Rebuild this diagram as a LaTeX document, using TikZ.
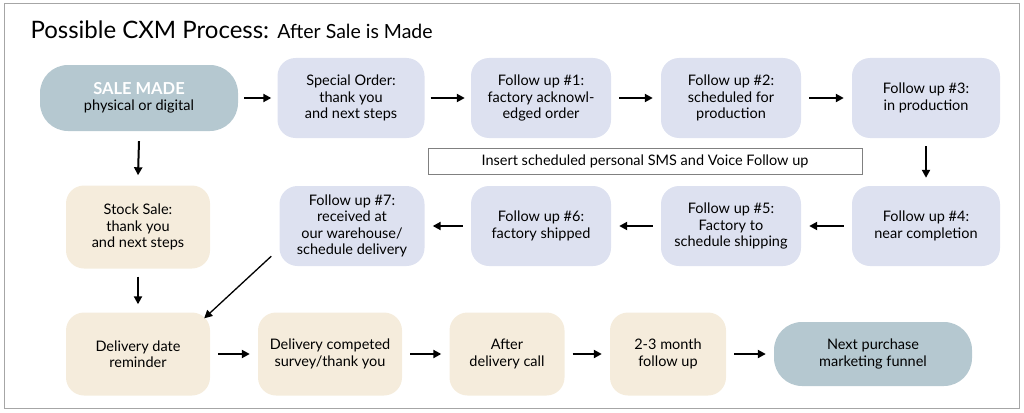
\documentclass[tikz,border=0pt]{standalone}
\usepackage{fontspec}
\setmainfont{Lato}
\usetikzlibrary{positioning,arrows.meta}
\definecolor{teal}{HTML}{B5C8D0}
\definecolor{lav}{HTML}{DDE1F0}
\definecolor{beige}{HTML}{F5ECDC}
\tikzset{
  stepbox/.style={rounded corners=18pt,align=center,font=\fontsize{14.5}{16.5}\selectfont,inner sep=0pt},
  lavbox/.style={stepbox,fill=lav,minimum width=140pt,minimum height=80pt},
  beigebox/.style={stepbox,fill=beige,minimum width=144pt,minimum height=83pt},
  tealbox/.style={stepbox,fill=teal,rounded corners=28pt,minimum width=198pt,minimum height=66pt},
  flow/.style={-{Triangle[length=8pt,width=8pt]},line width=2pt}
}
\begin{document}
\begin{tikzpicture}[x=1pt,y=-1pt]
      \useasboundingbox (0,0) rectangle (1024,412);
      \draw[gray!70,line width=1pt] (4,4) rectangle (1019,408);
      \node[anchor=west,font=\fontsize{24}{26}\selectfont] (title) at (27,30)
        {Possible CXM Process: {\fontsize{19.5}{22}\selectfont After Sale is Made}};
      % top row
      \node[tealbox] (sale) at (139,98) {{\color{white}\bfseries\fontsize{16.5}{18.5}\selectfont SALE MADE}\\physical or digital};
      \node[lavbox,minimum width=147pt] (special) at (351,98) {Special Order:\\thank you\\and next steps};
      \node[lavbox] (f1) at (541,98) {Follow up \#1:\\factory acknowl-\\edged order};
      \node[lavbox] (f2) at (731,98) {Follow up \#2:\\scheduled for\\production};
      \node[lavbox,minimum width=148pt] (f3) at (926,98) {Follow up \#3:\\in production};
      \node[draw=gray,line width=0.8pt,minimum width=434pt,minimum height=26pt,font=\fontsize{14.5}{16}\selectfont] (note) at (645,161)
        {Insert scheduled personal SMS and Voice Follow up};
      % middle row
      \node[beigebox] (stock) at (138,227) {Stock Sale:\\thank you\\and next steps};
      \node[lavbox,minimum width=145pt] (f7) at (352,226) {Follow up \#7:\\received at\\our warehouse/\\schedule delivery};
      \node[lavbox] (f6) at (541,226) {Follow up \#6:\\factory shipped};
      \node[lavbox] (f5) at (731,226) {Follow up \#5:\\Factory to\\schedule shipping};
      \node[lavbox,minimum width=148pt] (f4) at (926,226) {Follow up \#4:\\near completion};
      % bottom row
      \node[beigebox] (remind) at (138,354) {Delivery date\\reminder};
      \node[beigebox] (survey) at (330,354) {Delivery competed\\survey/thank you};
      \node[beigebox,minimum width=115pt] (call) at (507,354) {After\\delivery call};
      \node[beigebox,minimum width=116pt] (month) at (668,354) {2-3 month\\follow up};
      \node[tealbox,minimum height=64pt] (next) at (873,354) {Next purchase\\marketing funnel};
      % arrows
      \draw[flow] ([xshift=6pt]sale.east) -- ([xshift=-6pt]special.west);
      \draw[flow] ([xshift=6pt]special.east) -- ([xshift=-6pt]f1.west);
      \draw[flow] ([xshift=8pt]f1.east) -- ([xshift=-8pt]f2.west);
      \draw[flow] ([xshift=8pt]f2.east) -- ([xshift=-8pt]f3.west);
      \draw[flow] ([yshift=-8pt]f3.south) -- ([yshift=8pt]f4.north);
      \draw[flow] ([xshift=-8pt]f4.west) -- ([xshift=8pt]f5.east);
      \draw[flow] ([xshift=-8pt]f5.west) -- ([xshift=8pt]f6.east);
      \draw[flow] ([xshift=-8pt]f6.west) -- ([xshift=8pt]f7.east);
      \draw[flow] ([yshift=-10pt]sale.south) -- ([yshift=10pt]stock.north);
      \draw[flow] ([yshift=-8pt]stock.south) -- ([yshift=8pt]remind.north);
      \draw[flow,line width=1.3pt] ([shift={(-8pt,10pt)}]f7.south west) -- ([shift={(-6pt,-6pt)}]remind.north east);
      \draw[flow] ([xshift=8pt]remind.east) -- ([xshift=-8pt]survey.west);
      \draw[flow] ([xshift=8pt]survey.east) -- ([xshift=-8pt]call.west);
      \draw[flow] ([xshift=8pt]call.east) -- ([xshift=-8pt]month.west);
      \draw[flow] ([xshift=8pt]month.east) -- ([xshift=-8pt]next.west);
    \end{tikzpicture}
\end{document}
